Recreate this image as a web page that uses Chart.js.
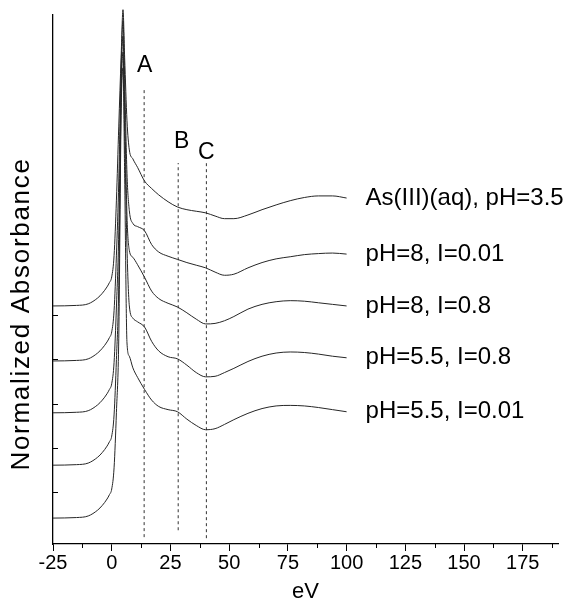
<!DOCTYPE html>
<html>
<head>
<meta charset="utf-8">
<script src="https://cdn.jsdelivr.net/npm/chart.js@4.4.1/dist/chart.umd.min.js"></script>
<style>
  html, body { margin: 0; padding: 0; background: #fff; }
  #wrap { width: 574px; height: 605px; }
</style>
</head>
<body>
<div id="wrap"><canvas id="xanes" width="574" height="605"></canvas></div>
<script>
// energy grid (eV) shared by every spectrum
const energy = [-25, -15, -10, -6, -4, -2, -1, 0, 1, 2, 3, 4, 4.8, 5.5, 6.5, 7.5, 9, 11, 14, 17, 20, 24, 28, 32, 36, 40, 44, 48, 52, 58, 64, 70, 76, 82, 88, 94, 100];

// stacked normalized absorbance, top to bottom
const asAqPH35 = [4.50, 4.51, 4.54, 4.65, 4.74, 4.86, 4.94, 5.05, 5.45, 6.50, 7.90, 9.20, 10.10, 9.20, 8.00, 7.45, 7.28, 7.12, 6.86, 6.72, 6.60, 6.47, 6.37, 6.32, 6.29, 6.26, 6.20, 6.15, 6.15, 6.22, 6.32, 6.41, 6.49, 6.55, 6.58, 6.58, 6.54];
const pH8I001 = [3.46, 3.47, 3.50, 3.61, 3.70, 3.82, 3.90, 4.01, 4.41, 5.46, 6.86, 9.00, 9.90, 8.80, 7.00, 6.30, 6.06, 6.00, 5.92, 5.66, 5.52, 5.44, 5.38, 5.32, 5.27, 5.22, 5.14, 5.08, 5.10, 5.22, 5.32, 5.39, 5.43, 5.47, 5.49, 5.50, 5.48];
const pH8I08 = [2.48, 2.49, 2.52, 2.63, 2.72, 2.84, 2.92, 3.03, 3.43, 4.48, 5.88, 8.70, 9.60, 8.30, 6.20, 5.55, 5.42, 5.28, 5.04, 4.78, 4.64, 4.55, 4.48, 4.37, 4.25, 4.16, 4.17, 4.22, 4.30, 4.44, 4.53, 4.58, 4.60, 4.59, 4.56, 4.53, 4.50];
const pH55I08 = [1.49, 1.50, 1.53, 1.64, 1.73, 1.85, 1.93, 2.04, 2.44, 3.49, 4.89, 8.40, 9.30, 7.80, 5.60, 4.50, 4.27, 4.20, 4.10, 3.83, 3.65, 3.54, 3.50, 3.38, 3.24, 3.16, 3.17, 3.24, 3.32, 3.45, 3.55, 3.61, 3.63, 3.62, 3.59, 3.55, 3.52];
const pH55I001 = [0.49, 0.50, 0.53, 0.64, 0.73, 0.85, 0.93, 1.04, 1.44, 2.49, 3.89, 8.10, 9.00, 7.00, 3.80, 3.55, 3.33, 3.15, 2.92, 2.72, 2.60, 2.54, 2.50, 2.36, 2.24, 2.16, 2.18, 2.26, 2.35, 2.47, 2.56, 2.61, 2.62, 2.61, 2.58, 2.54, 2.50];

const seriesNames = ['As(III)(aq), pH=3.5', 'pH=8, I=0.01', 'pH=8, I=0.8', 'pH=5.5, I=0.8', 'pH=5.5, I=0.01'];
const seriesValues = [asAqPH35, pH8I001, pH8I08, pH55I08, pH55I001];

// dashed feature markers
const markerNames = ['A', 'B', 'C'];
const markerEnergy = [13.8, 28.3, 40.3];
const markerTop = [8.62, 7.2, 7.2];
const markerBottom = [0.13, 0.26, 0.11];
const markerLabelX = [14.0, 29.8, 40.3];
const markerLabelY = [9.05, 7.6, 7.39];

const xTicks = [-25, 0, 25, 50, 75, 100, 125, 150, 175];
const xMinorTicks = [-12.5, 12.5, 37.5, 62.5, 87.5, 112.5, 137.5, 162.5, 187.5];
const yMinorTicks = [0.98, 1.81, 2.65, 3.50, 4.33];

const FONT = '"Liberation Sans", Arial, Helvetica, sans-serif';

const datasets = seriesValues.map(function(vals, i) {
    return {
        label: seriesNames[i],
        data: energy.map(function(e, k) { return {x: e, y: vals[k]}; }),
        borderColor: '#262626',
        borderWidth: 1,
        pointRadius: 0,
        fill: false,
        clip: false,
        cubicInterpolationMode: 'monotone'
    };
});
markerNames.forEach(function(m, i) {
    datasets.push({
        label: m,
        data: [{x: markerEnergy[i], y: markerBottom[i]}, {x: markerEnergy[i], y: markerTop[i]}],
        borderColor: '#333',
        borderWidth: 1,
        borderDash: [3, 3],
        pointRadius: 0,
        fill: false
    });
});

const textPlugin = {
    id: 'textPlugin',
    afterDraw(chart) {
        const ctx = chart.ctx;
        const x = chart.scales.x;
        const y = chart.scales.y;
        ctx.save();
        ctx.fillStyle = '#000';
        ctx.strokeStyle = '#000';
        ctx.lineWidth = 1;

        // minor ticks on x axis
        ctx.beginPath();
        xMinorTicks.forEach(function(v) {
            const px = Math.round(x.getPixelForValue(v)) + 0.5;
            ctx.moveTo(px, y.bottom);
            ctx.lineTo(px, y.bottom + 4);
        });
        // small ticks on y axis (inside)
        yMinorTicks.forEach(function(v) {
            const py = Math.round(y.getPixelForValue(v)) + 0.5;
            ctx.moveTo(x.left, py);
            ctx.lineTo(x.left + 5, py);
        });
        ctx.stroke();

        // series labels next to the end of each spectrum
        ctx.font = '24px ' + FONT;
        ctx.textAlign = 'left';
        ctx.textBaseline = 'middle';
        seriesNames.forEach(function(name, i) {
            const vals = seriesValues[i];
            const px = x.getPixelForValue(energy[energy.length - 1]) + 19;
            const py = y.getPixelForValue(vals[vals.length - 1]);
            ctx.fillText(name, px, py);
        });

        // A, B, C
        ctx.font = '23px ' + FONT;
        ctx.textAlign = 'center';
        markerNames.forEach(function(m, i) {
            ctx.fillText(m, x.getPixelForValue(markerLabelX[i]), y.getPixelForValue(markerLabelY[i]));
        });

        // y title
        ctx.translate(22, 314);
        ctx.rotate(-Math.PI / 2);
        ctx.font = '26px ' + FONT;
        if ('letterSpacing' in ctx) ctx.letterSpacing = '1.7px';
        ctx.fillText('Normalized Absorbance', 0, 0);
        ctx.restore();
    }
};

const ctx = document.getElementById('xanes').getContext('2d');
const XANES = new Chart(ctx, {
    type: 'line',
    data: {datasets: datasets},
    options: {
        responsive: false,
        animation: false,
        devicePixelRatio: 1,
        layout: {padding: {top: 15, right: 16, left: 0, bottom: 0}},
        plugins: {
            legend: {display: false},
            tooltip: {enabled: false}
        },
        scales: {
            x: {
                type: 'linear',
                min: -25,
                max: 190,
                afterFit: function(scale) { scale.height = 61; },
                afterBuildTicks: function(scale) {
                    scale.ticks = xTicks.map(function(v) { return {value: v}; });
                },
                border: {display: true, color: '#000', width: 1.3},
                grid: {drawOnChartArea: false, tickLength: 7, color: '#000', tickWidth: 1},
                ticks: {
                    color: '#000',
                    padding: 0,
                    maxRotation: 0,
                    font: {size: 20, family: FONT}
                },
                title: {
                    display: true,
                    text: 'eV',
                    color: '#000',
                    padding: {top: 0, bottom: 0},
                    font: {size: 22, family: FONT}
                }
            },
            y: {
                type: 'linear',
                min: 0,
                max: 10,
                afterFit: function(scale) { scale.width = 53; },
                border: {display: true, color: '#000', width: 1.3},
                grid: {display: false},
                ticks: {display: false}
            }
        }
    },
    plugins: [textPlugin]
});
</script>
</body>
</html>
